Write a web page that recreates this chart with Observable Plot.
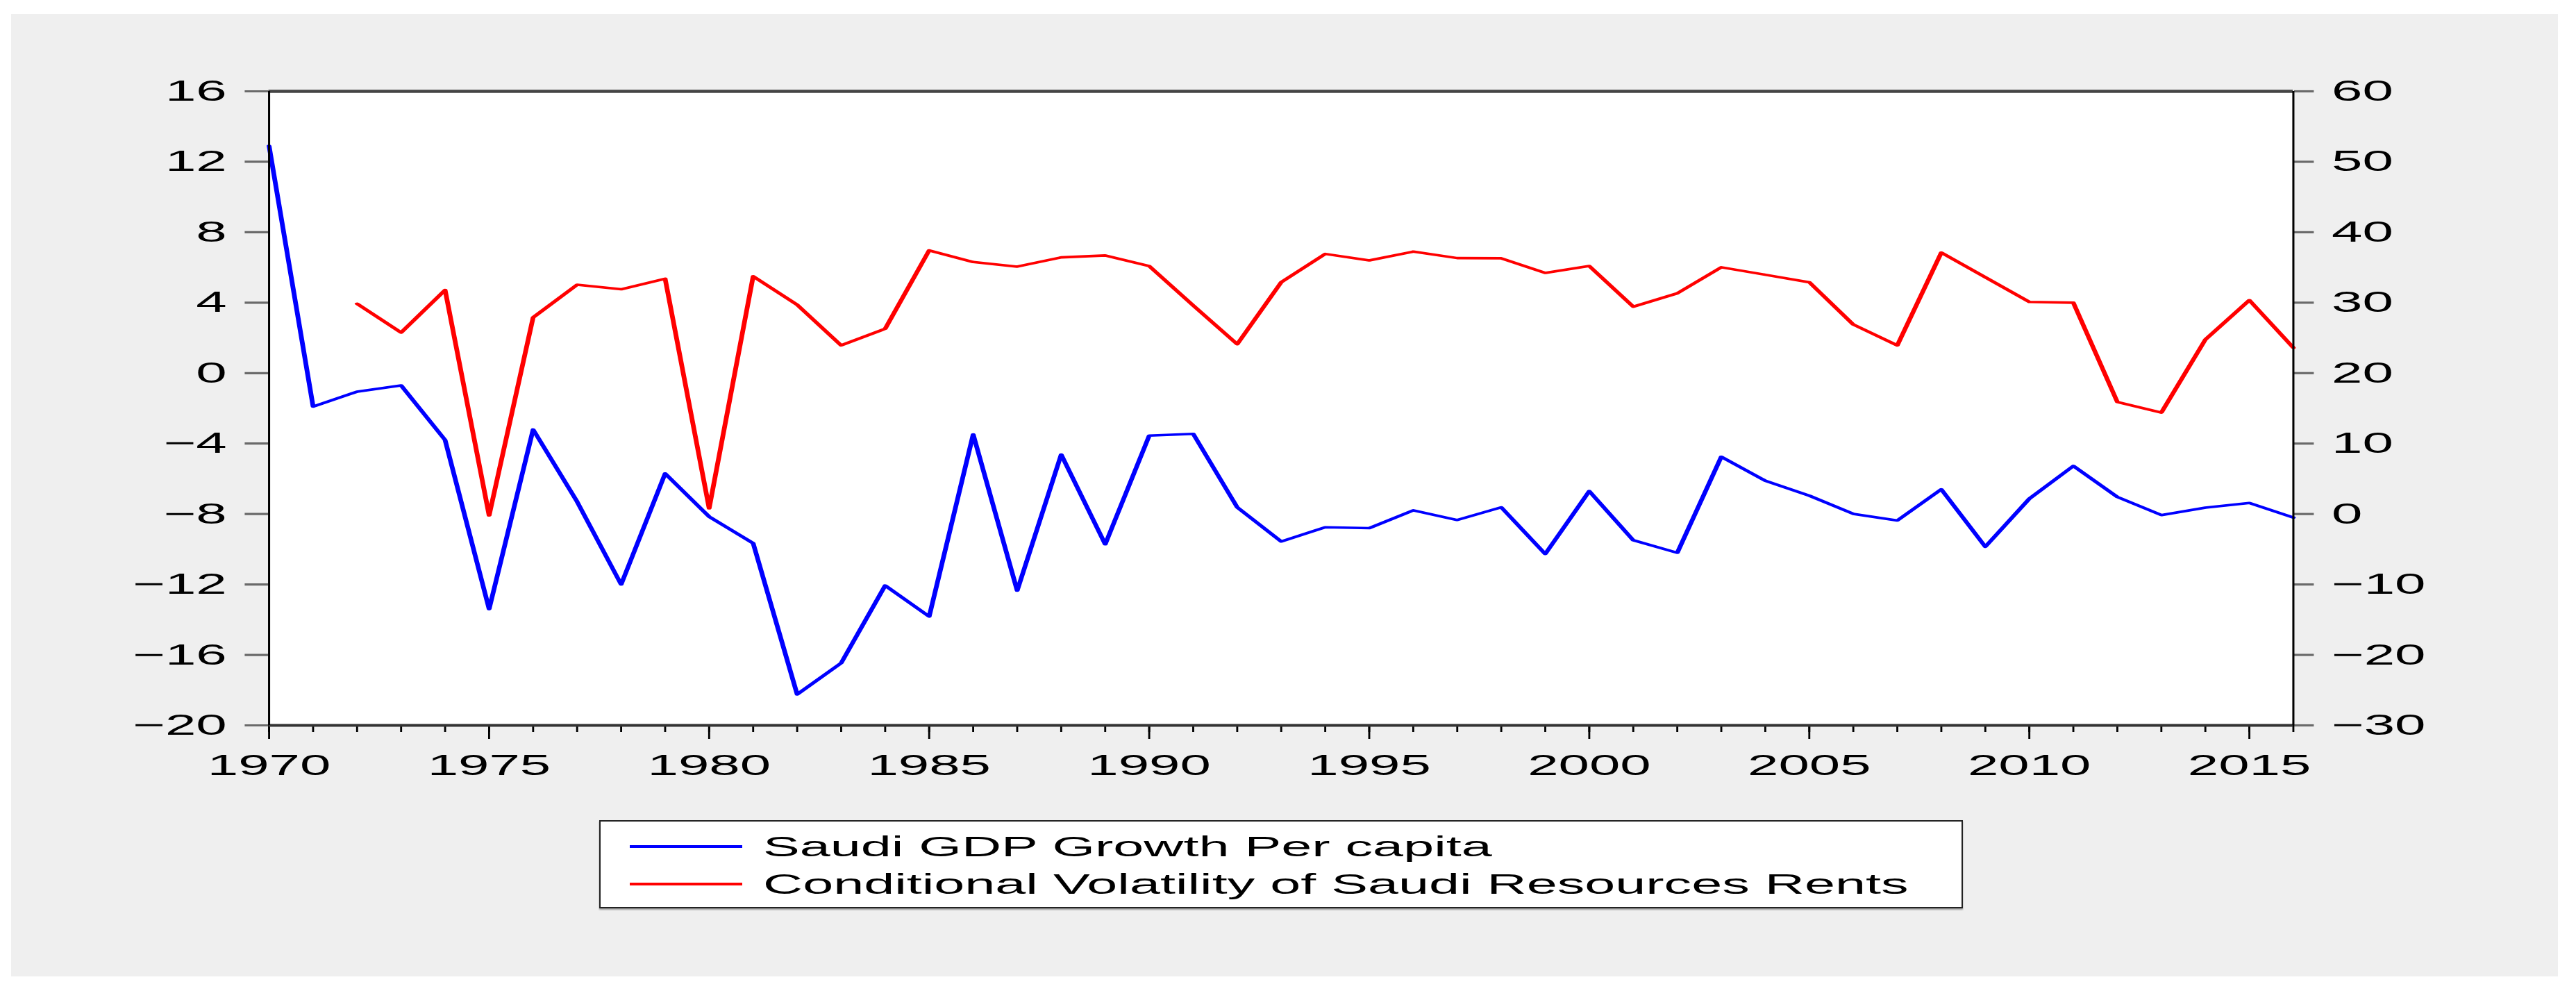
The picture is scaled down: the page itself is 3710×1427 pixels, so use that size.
<!DOCTYPE html>
<html>
<head>
<meta charset="utf-8">
<script src="https://cdn.jsdelivr.net/npm/d3@7"></script>
<script src="https://cdn.jsdelivr.net/npm/@observablehq/plot@0.6"></script>
<style>
html, body { margin: 0; padding: 0; background: #fff; }
#page { position: relative; width: 3710px; height: 1427px; overflow: hidden; background: #fff; }
#panel { position: absolute; left: 16px; top: 20px; width: 3668px; height: 1386px; background: #efefef; }
#chart { position: absolute; left: 0; top: 0; }
#legend { position: absolute; left: 847px; top: 1161px; width: 1964px; height: 127px; background: #fff;
  border: 2.5px solid #222; box-sizing: border-box; box-shadow: 0 2px 2px rgba(0,0,0,0.35);
  font-family: "Liberation Sans", Arial, sans-serif; color: #000; }
.row { position: absolute; left: 0; width: 100%; height: 50px; }
.swatch { position: absolute; left: 42px; width: 162px; height: 4px; top: 23px; }
.label { position: absolute; left: 234px; top: 0; height: 50px; line-height: 50px; font-size: 41px;
  white-space: nowrap; transform: scaleX(1.93); transform-origin: 0 50%; }
</style>
</head>
<body>
<div id="page"><div id="panel"><div id="chart"></div><div id="legend"></div></div></div>
<script>
// ---- data ----
const gdpYears = [1970,1971,1972,1973,1974,1975,1976,1977,1978,1979,
  1980,1981,1982,1983,1984,1985,1986,1987,1988,1989,
  1990,1991,1992,1993,1994,1995,1996,1997,1998,1999,
  2000,2001,2002,2003,2004,2005,2006,2007,2008,2009,
  2010,2011,2012,2013,2014,2015,2016];
const gdpGrowth = [12.9,-1.9,-1.05,-0.7,-3.8,-13.4,-3.2,-7.3,-12.0,-5.7,
  -8.15,-9.66,-18.24,-16.46,-12.06,-13.82,-3.48,-12.35,-4.62,-9.72,
  -3.55,-3.45,-7.62,-9.56,-8.75,-8.8,-7.79,-8.34,-7.62,-10.27,
  -6.7,-9.49,-10.2,-4.75,-6.11,-6.96,-7.99,-8.37,-6.6,-9.86,
  -7.13,-5.27,-7.03,-8.06,-7.64,-7.37,-8.2];
const volYears = [1972,1973,1974,1975,1976,1977,1978,1979,
  1980,1981,1982,1983,1984,1985,1986,1987,1988,1989,
  1990,1991,1992,1993,1994,1995,1996,1997,1998,1999,
  2000,2001,2002,2003,2004,2005,2006,2007,2008,2009,
  2010,2011,2012,2013,2014,2015,2016];
const volatility = [29.85,25.75,31.8,-0.2,27.9,32.55,31.9,33.4,
  0.8,33.74,29.7,23.94,26.3,37.42,35.77,35.12,36.43,36.7,
  35.2,29.6,24.1,32.9,36.92,36.0,37.25,36.33,36.3,34.23,
  35.2,29.43,31.33,35.02,33.96,32.9,26.9,23.94,37.1,33.6,
  30.1,30.0,15.9,14.4,24.76,30.35,23.6];
const leftTicks = [-20,-16,-12,-8,-4,0,4,8,12,16];
const rightTicks = [-30,-20,-10,0,10,20,30,40,50,60];
const yearLabels = [1970,1975,1980,1985,1990,1995,2000,2005,2010,2015];
const seriesNames = ["Saudi GDP Growth Per capita", "Conditional Volatility of Saudi Resources Rents"];
const seriesColors = ["#0000ff", "#ff0000"];

// right axis (-30..60) aligned with left axis (-20..16)
const toLeft = r => (r - 20) / 2.5;
const fromLeft = l => Math.round(20 + 2.5 * l);
const fmt = v => v < 0 ? "\u2212" + Math.abs(v) : String(v);

const gdp = gdpYears.map((y, i) => ({year: y, value: gdpGrowth[i]}));
const vol = volYears.map((y, i) => ({year: y, value: toLeft(volatility[i])}));

const STRETCH = 1.9005;
const W = 1930, H = 1100;

const plot = Plot.plot({
  width: W, height: H,
  marginLeft: 195, marginRight: 201, marginTop: 111, marginBottom: 76,
  style: {background: "transparent", fontFamily: "'Liberation Sans', Arial, sans-serif", fontSize: "42px", color: "#000", overflow: "visible"},
  x: {domain: [1970, 2016]},
  y: {domain: [-20, 16]},
  marks: [
    Plot.frame({fill: "white", stroke: "none"}),
    Plot.axisY({anchor: "left", ticks: leftTicks, tickSize: 18, tickPadding: 14, tickFormat: fmt,
      stroke: "#6a6a6a", fill: "#000", strokeWidth: 3.2, label: null}),
    Plot.axisY({anchor: "right", ticks: rightTicks.map(toLeft), tickSize: 15, tickPadding: 14,
      tickFormat: l => fmt(fromLeft(l)), stroke: "#6a6a6a", fill: "#000", strokeWidth: 3.2, label: null}),
    Plot.axisX({ticks: gdpYears, tickSize: 10, tickFormat: () => "", stroke: "#000", strokeWidth: 1.5, label: null}),
    Plot.axisX({ticks: yearLabels, tickSize: 20, tickPadding: 22, tickFormat: d => String(d),
      stroke: "#000", fill: "#000", strokeWidth: 1.5, label: null}),
    Plot.line(vol, {x: "year", y: "value", stroke: seriesColors[1], strokeWidth: 3.6}),
    Plot.line(gdp, {x: "year", y: "value", stroke: seriesColors[0], strokeWidth: 3.6}),
    Plot.ruleY([16], {stroke: "#444", strokeWidth: 4.5}),
    Plot.ruleY([-20], {stroke: "#333", strokeWidth: 4}),
    Plot.ruleX([1970], {stroke: "#000", strokeWidth: 1.6}),
    Plot.ruleX([2016], {stroke: "#000", strokeWidth: 1.6})
  ]
});

// the reference is stretched horizontally; reproduce that
plot.setAttribute("width", Math.round(W * STRETCH));
plot.setAttribute("height", H);
plot.setAttribute("preserveAspectRatio", "none");
plot.style.width = Math.round(W * STRETCH) + "px";
plot.style.height = H + "px";
plot.style.maxWidth = "none";
document.getElementById("chart").appendChild(plot);

// legend
const legend = document.getElementById("legend");
seriesNames.forEach((name, i) => {
  const row = document.createElement("div");
  row.className = "row";
  row.style.top = (i === 0 ? 11 : 65) + "px";
  const sw = document.createElement("div");
  sw.className = "swatch";
  sw.style.background = seriesColors[i];
  const lab = document.createElement("div");
  lab.className = "label";
  lab.textContent = name;
  row.appendChild(sw);
  row.appendChild(lab);
  legend.appendChild(row);
});
</script>
</body>
</html>
